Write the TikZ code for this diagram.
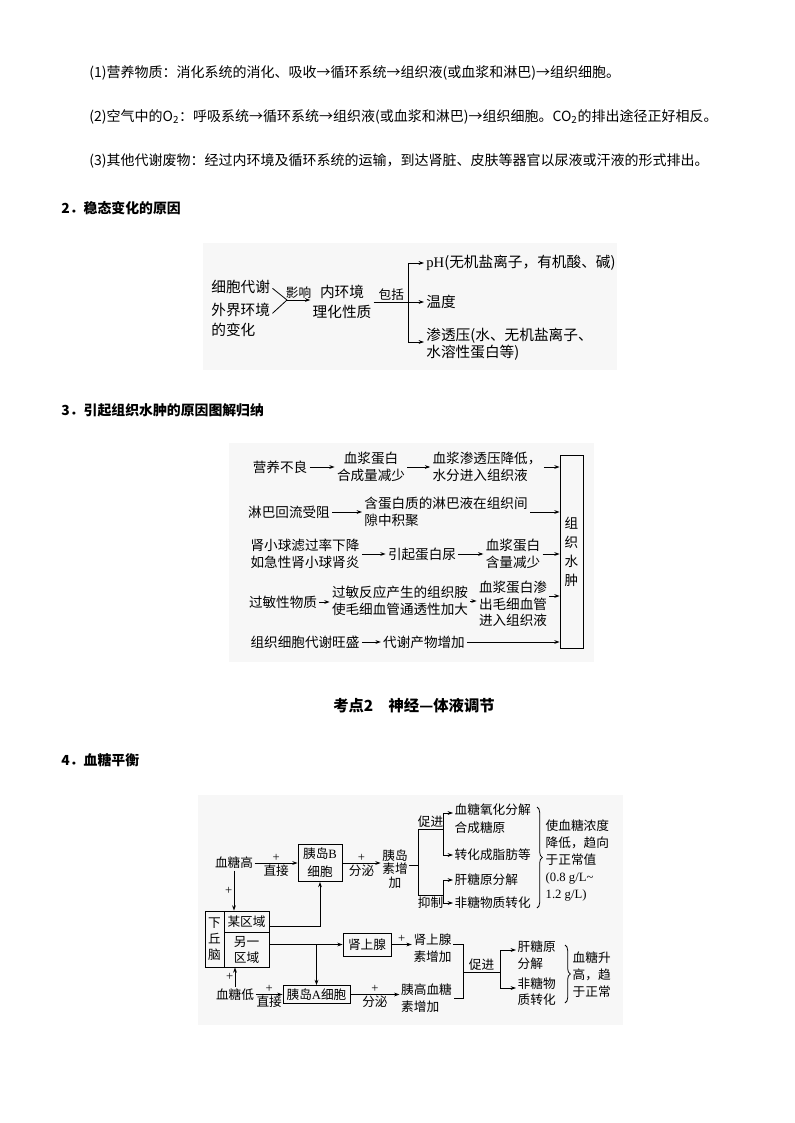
\documentclass[tikz,border=0pt]{standalone}
\usepackage{fontspec}
\setmainfont{Noto Sans CJK SC}
\newfontfamily\lat{Liberation Serif}
\usetikzlibrary{arrows.meta, calc, decorations.pathreplacing}
\definecolor{bgimg}{HTML}{F7F7F7}
\newcommand{\pls}{{\lat +}}

\begin{document}
\begin{tikzpicture}[x=0.75pt, y=-0.75pt, line width=0.6pt,
  tx/.style={font=\fontsize{10.5}{13}\selectfont, inner sep=0pt, anchor=west},
  hd/.style={font=\fontsize{10.4}{13}\selectfont\bfseries, inner sep=0pt, anchor=west},
  da/.style={font=\fontsize{11}{14.5}\selectfont, inner sep=1.5pt, align=left},
  db/.style={font=\fontsize{10.2}{12.5}\selectfont, inner sep=1.5pt, align=center},
  dc/.style={font=\fontsize{9.5}{12.5}\selectfont, inner sep=1pt, align=center},
  bx/.style={draw, dc},
  lb/.style={font=\fontsize{9.5}{10}\selectfont, inner sep=1pt},
  ar/.style={-{Stealth[length=4pt,width=2.8pt]}}]
\fill[white] (0,0) rectangle (794,1123);
\useasboundingbox (0,0) rectangle (794,1123);

% text lines
\node[tx] (yy) at (89,73) {(1)营养物质：消化系统的消化、吸收→循环系统→组织液(或血浆和淋巴)→组织细胞。};
\node[tx] (kq) at (89,117) {(2)空气中的O\textsubscript{2}：呼吸系统→循环系统→组织液(或血浆和淋巴)→组织细胞。CO\textsubscript{2}的排出途径正好相反。};
\node[tx] (fw) at (89,161) {(3)其他代谢废物：经过内环境及循环系统的运输，到达肾脏、皮肤等器官以尿液或汗液的形式排出。};
\node[hd] (h2) at (61,208) {2．稳态变化的原因};
\node[hd] (h3) at (61,410) {3．引起组织水肿的原因图解归纳};
\node[hd, anchor=center, font=\fontsize{11.5}{14}\selectfont\bfseries] (kd2) at (414,706) {考点2　神经—体液调节};
\node[hd] (h4) at (61,760) {4．血糖平衡};

% 2. 稳态变化的原因
\fill[bgimg] (203,243) rectangle (617,370);
\node[da, anchor=west] (xbdx) at (209,287) {细胞代谢};
\node[da, anchor=west] (wjhj) at (209,320) {外界环境\\的变化};
\coordinate (hui) at (287,300);
\draw ([yshift=-1pt]xbdx.east) -- (hui);
\draw ([yshift=5pt]wjhj.east) -- (hui);
\node[da, align=center] (lhxz) at (342,302) {内环境\\理化性质};
\draw[ar] (hui) -- (hui -| lhxz.west) node[midway, above, lb] {影响};
\node[da, anchor=west] (ph) at (424,263) {{\lat pH}(无机盐离子，有机酸、碱)};
\node[da, anchor=west] (wd) at (424,302) {温度};
\node[da, anchor=west] (stp) at (424,344) {渗透压(水、无机盐离子、\\[-2pt]水溶性蛋白等)};
\draw[ar] (lhxz.east) -- (lhxz.east -| wd.west) node[pos=0.35, above, lb] {包括};
\coordinate (zg1) at (408,263);
\coordinate (zg3) at (408,342);
\draw (zg1) -- (zg3);
\draw[ar] (zg1) -- (zg1 -| ph.west);
\draw[ar] (zg3) -- (zg3 -| stp.west);

% 3. 组织水肿
\fill[bgimg] (229,443) rectangle (594,662);
\node[draw, db, minimum width=17.25pt, minimum height=144.75pt, font=\fontsize{10.2}{14.3}\selectfont] (szz) at (571.5,551.5) {组\\织\\水\\肿};
\node[db] (yybl) at (280,467) {营养不良};
\node[db] (hcjs) at (371,467) {血浆蛋白\\合成量减少};
\node[db, align=left] (sfjr) at (487,467) {血浆渗透压降低，\\水分进入组织液};
\draw[ar] (yybl) -- (hcjs);
\draw[ar] (hcjs) -- (sfjr);
\draw[ar] (sfjr) -- (sfjr -| szz.west);
\node[db] (lbsz) at (289,512) {淋巴回流受阻};
\node[db, align=left, anchor=west] (jj) at (362,512) {含蛋白质的淋巴液在组织间\\隙中积聚};
\draw[ar] (lbsz) -- (jj);
\draw[ar] (jj) -- (jj -| szz.west);
\node[db] (sxq) at (305,554) {肾小球滤过率下降\\如急性肾小球肾炎};
\node[db] (dbn) at (422,554) {引起蛋白尿};
\node[db] (hljs) at (513,554) {血浆蛋白\\含量减少};
\draw[ar] (sxq) -- (dbn);
\draw[ar] (dbn) -- (hljs);
\draw[ar] (hljs) -- (hljs -| szz.west);
\node[db] (gmwz) at (283,602) {过敏性物质};
\node[db] (zzan) at (400,601) {过敏反应产生的组织胺\\使毛细血管通透性加大};
\node[db] (scxg) at (513,604) {血浆蛋白渗\\出毛细血管\\进入组织液};
\draw[ar] (gmwz) -- (gmwz -| zzan.west);
\draw[ar] (zzan.east) -- (zzan.east -| scxg.west);
\draw[ar] ([yshift=6pt]scxg.east) -- ([yshift=6pt]scxg.east -| szz.west);
\node[db] (dxws) at (305,642) {组织细胞代谢旺盛};
\node[db] (dxzj) at (424,642) {代谢产物增加};
\draw[ar] (dxws) -- (dxzj);
\draw[ar] (dxzj) -- (dxzj -| szz.west);

% 4. 血糖平衡
\fill[bgimg] (198,795) rectangle (623,1025);
\node[dc] (xtg) at (234,863) {血糖高};
\node[bx, minimum width=33pt, minimum height=27.75pt] (ydB) at (320,863) {胰岛{\lat B}\\[1pt]细胞};
\draw[ar] (xtg) -- (xtg -| ydB.west) node[midway, above, lb] {\pls} node[midway, below, lb] {直接};
\node[dc, font=\fontsize{9.5}{10.3}\selectfont] (ydsz) at (395,869) {胰岛\\素增\\加};
\draw[ar] (ydB) -- (ydB -| ydsz.west) node[midway, above, lb] {\pls} node[midway, below, lb] {分泌};
\coordinate (ycz) at (418,865);
\coordinate (cj1) at (418,829);
\coordinate (yz1) at (418,895);
\coordinate (cj2) at (443,829);
\coordinate (yz2) at (443,895);
\draw (ydsz.east |- ycz) -- (ycz);
\draw (cj1) -- (yz1);
\draw (cj1) -- (cj2) node[midway, above, lb] {促进};
\draw (yz1) -- (yz2) node[midway, below, lb] {抑制};
\node[dc, anchor=west, align=left] (xtyh) at (453,819) {血糖氧化分解\\[1pt]合成糖原};
\node[dc, anchor=west] (zhzf) at (453,855) {转化成脂肪等};
\node[dc, anchor=west] (gtfj) at (453,880) {肝糖原分解};
\node[dc, anchor=west] (ftzh) at (453,903) {非糖物质转化};
\coordinate (a1) at (443,813);
\coordinate (a2) at (443,855);
\coordinate (b1) at (443,880);
\coordinate (b2) at (443,903);
\draw (a1) -- (a2);
\draw (b1) -- (b2);
\draw[ar] (a1) -- (a1 -| xtyh.west);
\draw[ar] (a2) -- (a2 -| zhzf.west);
\draw[ar] (b1) -- (b1 -| gtfj.west);
\draw[ar] (b2) -- (b2 -| ftzh.west);
\draw[decorate, decoration={brace, amplitude=4pt}] (537,807) -- (537,908);
\node[dc, anchor=west, align=left, font=\fontsize{9.5}{12.75}\selectfont] (sxtd) at (544,861) {使血糖浓度\\降低，趋向\\于正常值\\{\lat (0.8 g/L\textasciitilde}\\{\lat 1.2 g/L)}};

\node[draw, dc, minimum width=14.25pt, minimum height=42pt, font=\fontsize{9.5}{12}\selectfont] (xqn) at (214.5,939) {下\\丘\\脑};
\node[draw, dc, minimum width=33.75pt, minimum height=15.75pt] (mqy) at (246.5,921.5) {某区域};
\node[draw, dc, minimum width=33.75pt, minimum height=26.25pt, font=\fontsize{9.5}{12}\selectfont] (lqy) at (246.5,949.5) {另一\\区域};
\draw[ar] (xtg) -- (xtg |- mqy.north) node[midway, left, lb] {\pls};
\draw[ar] ([yshift=-4pt]mqy.east) -| (ydB);
\node[bx, minimum width=36pt, minimum height=17.25pt] (sxx) at (367,944.5) {肾上腺};
\node[bx, minimum width=50.25pt, minimum height=13.5pt] (ydA) at (316.5,994.5) {胰岛{\lat A}细胞};
\draw[ar] (sxx.west -| lqy.east) -- (sxx);
\draw[ar] (sxx.west -| ydA) -- (ydA);
\node[dc] (xtd) at (235,994.5) {血糖低};
\draw[ar] (xtd) -- (xtd |- lqy.south) node[midway, left, lb] {\pls};
\draw[ar] (xtd) -- (ydA) node[midway, above, lb] {\pls} node[midway, below, lb] {直接};
\node[dc] (sxsz) at (432.5,948.5) {肾上腺\\素增加};
\draw[ar] (sxx) -- (sxx -| sxsz.west) node[midway, above, lb] {\pls};
\node[dc, align=left] (ygx) at (426.5,998) {胰高血糖\\素增加};
\draw[ar] (ydA) -- (ydA -| ygx.west) node[midway, above, lb] {\pls} node[midway, below, lb] {分泌};
\coordinate (sj1) at (463,944);
\coordinate (sj2) at (463,998);
\coordinate (cjm) at (463,972);
\coordinate (cjr) at (500,972);
\draw (sxsz.east |- sj1) -- (sj1) -- (sj2) -- (ygx.east |- sj2);
\draw (cjm) -- (cjr) node[midway, above, lb] {促进};
\node[dc, anchor=west, align=left] (gtyf) at (516,955) {肝糖原\\分解};
\node[dc, anchor=west, align=left] (ftwz) at (516,991.5) {非糖物\\质转化};
\coordinate (c1) at (500,950);
\coordinate (c2) at (500,988);
\draw (c1) -- (c2);
\draw[ar] (c1) -- (c1 -| gtyf.west);
\draw[ar] (c2) -- (c2 -| ftwz.west);
\draw[decorate, decoration={brace, amplitude=4pt}] (565,945) -- (565,1003);
\node[dc, anchor=west, align=left, font=\fontsize{9.5}{12.75}\selectfont] (xtsg) at (571,975) {血糖升\\高，趋\\于正常};
\end{tikzpicture}
\end{document}
